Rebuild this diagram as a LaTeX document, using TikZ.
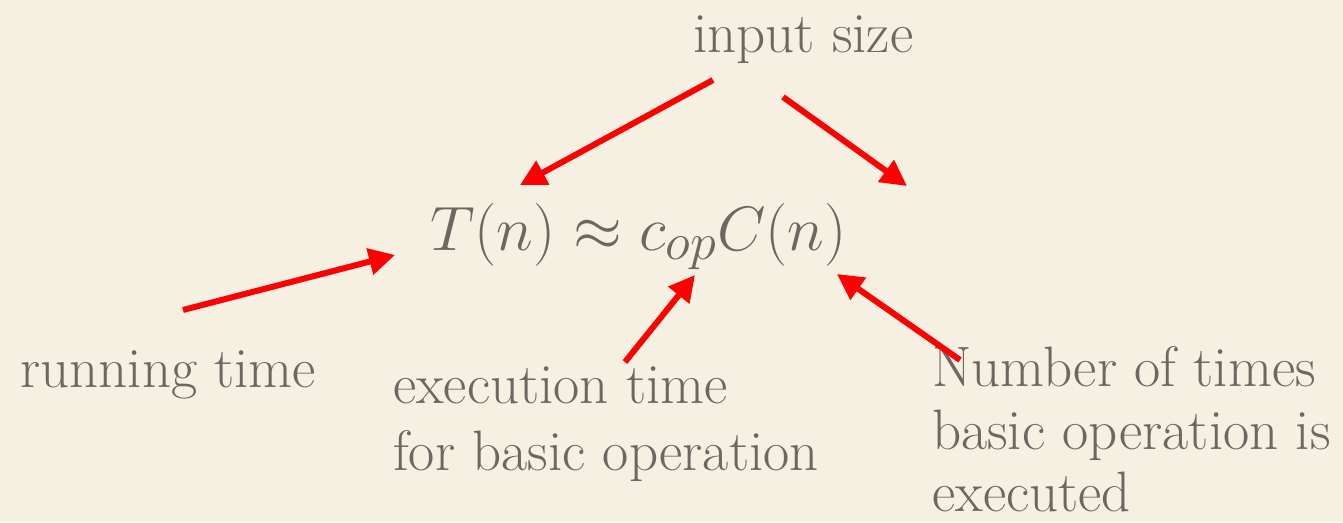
\documentclass[tikz,border=0pt]{standalone}
\usepackage{graphicx}
\usetikzlibrary{arrows.meta}
\definecolor{paper}{HTML}{F6F0E3}
\definecolor{ink}{HTML}{6B6862}
\definecolor{arrowred}{HTML}{FF0000}
\tikzset{
  label text/.style={anchor=base west, inner sep=0pt, text=ink, font=\fontsize{57}{66}\selectfont},
  pointer/.style={draw=arrowred, line width=6pt, -{Triangle[length=26pt,width=26pt]}},
}
\begin{document}
\begin{tikzpicture}[x=1pt,y=-1pt]
\fill[paper] (0,0) rectangle (1343,522);
\useasboundingbox (0,0) rectangle (1343,522);

% formula
\node[anchor=base west, inner sep=0pt, text=ink, font=\fontsize{24.88}{30}\selectfont] (formula) at (430,250) {\scalebox{2.52}{$T(n) \approx c_{op}C(n)$}};

% labels
\node[label text] (input) at (693,52) {input size};
\node[label text] (running) at (20,387) {running time};
\node[label text] (exec1) at (393,403) {execution time};
\node[label text] (exec2) at (393,470) {for basic operation};
\node[label text] (num1) at (932,386) {Number of times};
\node[label text] (num2) at (932,449) {basic operation is};
\node[label text] (num3) at (932,511) {executed};

% arrow ends
\coordinate (inL) at (713,80);
\coordinate (inLtip) at (520,185);
\coordinate (inR) at (783,97);
\coordinate (inRtip) at (907,186);
\coordinate (runTail) at (183,310);
\coordinate (runTip) at (395,255);
\coordinate (exTail) at (625,362);
\coordinate (exTip) at (695,275);
\coordinate (numTail) at (960,360);
\coordinate (numTip) at (837,274);

\draw[pointer] (inL) -- (inLtip);
\draw[pointer] (inR) -- (inRtip);
\draw[pointer] (runTail) -- (runTip);
\draw[pointer] (exTail) -- (exTip);
\draw[pointer] (numTail) -- (numTip);
\end{tikzpicture}
\end{document}
